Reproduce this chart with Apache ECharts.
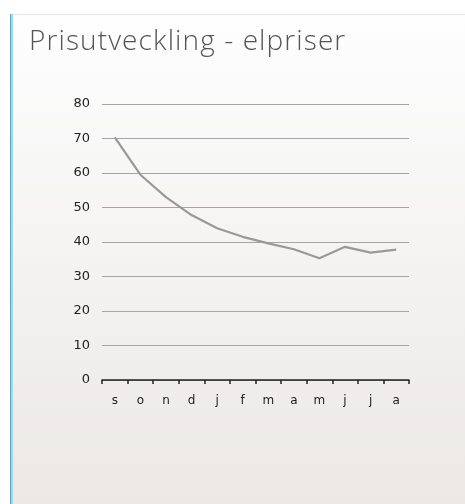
<!DOCTYPE html>
<html><head><meta charset="utf-8">
<script src="https://cdn.jsdelivr.net/npm/echarts@6/dist/echarts.min.js"></script>
<style>
html,body{margin:0;padding:0;width:465px;height:504px;background:#fff;overflow:hidden}
#panel{position:absolute;left:10px;top:14px;width:455px;height:490px;border-top:1px solid #e6e6e6;
background:linear-gradient(to bottom,#fefefe 0%,#f4f3f2 50%,#ebe8e5 100%)}
#b1{position:absolute;left:10px;top:14px;width:1px;height:490px;background:#5aa6c4}
#b2{position:absolute;left:11px;top:14px;width:2px;height:490px;background:#a9d6e2}
#title{position:absolute;left:29px;top:21px;margin:0;font-family:'Open Sans',sans-serif;font-weight:300;
font-size:28px;letter-spacing:1.1px;color:#555;white-space:nowrap;line-height:36px}
#chart{position:absolute;left:0;top:0;width:465px;height:504px}
</style></head>
<body>
<div id="panel"></div><div id="b1"></div><div id="b2"></div>
<div id="chart"></div>
<div id="title"></div>
<script>
const titleText = 'Prisutveckling - elpriser';
const categories = ['s','o','n','d','j','f','m','a','m','j','j','a'];
const prices = [70.3, 59.5, 53.0, 47.8, 44.0, 41.5, 39.6, 37.9, 35.3, 38.6, 36.9, 37.8];
const yTicks = {min: 0, max: 80, interval: 10};

document.getElementById('title').textContent = titleText;
const chart = echarts.init(document.getElementById('chart'), null, {renderer:'canvas'});
chart.setOption({
  backgroundColor: 'transparent',
  animation: false,
  grid: {left: 102, right: 56, top: 104, bottom: 124},
  xAxis: {
    type: 'category', data: categories, boundaryGap: true,
    axisLine: {show: true, lineStyle: {color: '#222', width: 1.5}},
    axisTick: {show: true, length: 4, lineStyle: {color: '#222', width: 1.5}},
    axisLabel: {color: '#222', fontFamily: 'DejaVu Sans', fontSize: 12, margin: 15}
  },
  yAxis: {
    type: 'value', min: yTicks.min, max: yTicks.max, interval: yTicks.interval,
    axisLine: {show: false}, axisTick: {show: false},
    axisLabel: {color: '#222', fontFamily: 'DejaVu Sans', fontSize: 13, margin: 12},
    splitLine: {lineStyle: {color: '#a6a6a6', width: 1}}
  },
  series: [{
    type: 'line', data: prices, symbol: 'none',
    lineStyle: {color: '#999', width: 2.2}
  }]
});
</script>
</body></html>
